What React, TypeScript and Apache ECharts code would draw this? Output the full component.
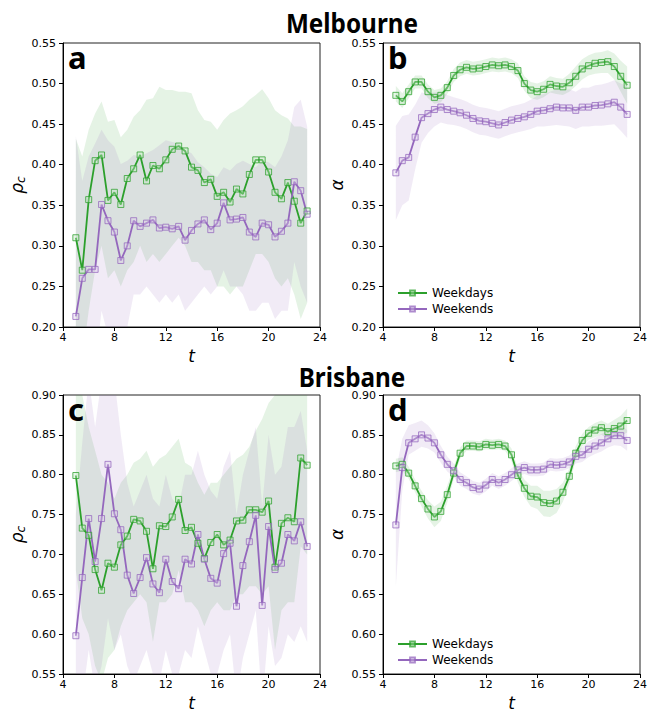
import React, { useEffect, useRef } from "react";
import * as echarts from "echarts";

const T = [5, 5.5, 6, 6.5, 7, 7.5, 8, 8.5, 9, 9.5, 10, 10.5, 11, 11.5, 12, 12.5, 13, 13.5, 14, 14.5, 15, 15.5, 16, 16.5, 17, 17.5, 18, 18.5, 19, 19.5, 20, 20.5, 21, 21.5, 22, 22.5, 23];
const X_TICKS = { min: 4, max: 24, interval: 4 };

// Melbourne rho_c (panel a)
const melRhoWd = [0.310, 0.270, 0.357, 0.405, 0.412, 0.356, 0.366, 0.351, 0.383, 0.395, 0.412, 0.380, 0.399, 0.395, 0.406, 0.419, 0.423, 0.417, 0.397, 0.393, 0.378, 0.382, 0.361, 0.366, 0.354, 0.370, 0.364, 0.388, 0.406, 0.406, 0.391, 0.366, 0.358, 0.378, 0.355, 0.328, 0.343];
const melRhoWdLo = [0.17, 0.16, 0.22, 0.27, 0.30, 0.26, 0.27, 0.25, 0.27, 0.28, 0.30, 0.28, 0.29, 0.28, 0.29, 0.30, 0.31, 0.30, 0.28, 0.28, 0.27, 0.27, 0.25, 0.25, 0.24, 0.25, 0.25, 0.27, 0.29, 0.29, 0.28, 0.26, 0.25, 0.26, 0.24, 0.21, 0.23];
const melRhoWdHi = [0.432, 0.41, 0.443, 0.463, 0.478, 0.453, 0.455, 0.434, 0.443, 0.459, 0.467, 0.480, 0.482, 0.496, 0.492, 0.492, 0.490, 0.490, 0.488, 0.467, 0.455, 0.453, 0.443, 0.455, 0.463, 0.467, 0.472, 0.480, 0.486, 0.493, 0.482, 0.467, 0.461, 0.457, 0.447, 0.447, 0.444];
const melRhoWe = [0.213, 0.260, 0.271, 0.271, 0.351, 0.331, 0.317, 0.282, 0.300, 0.331, 0.324, 0.328, 0.332, 0.322, 0.323, 0.321, 0.324, 0.307, 0.319, 0.327, 0.332, 0.320, 0.328, 0.353, 0.332, 0.333, 0.335, 0.317, 0.311, 0.328, 0.326, 0.311, 0.318, 0.328, 0.379, 0.368, 0.339];
const melRhoWeLo = [0.15, 0.15, 0.17, 0.15, 0.22, 0.19, 0.19, 0.17, 0.20, 0.24, 0.24, 0.25, 0.24, 0.23, 0.24, 0.23, 0.24, 0.22, 0.23, 0.24, 0.25, 0.24, 0.25, 0.27, 0.25, 0.25, 0.24, 0.22, 0.22, 0.23, 0.23, 0.21, 0.22, 0.22, 0.28, 0.25, 0.23];
const melRhoWeHi = [0.435, 0.38, 0.41, 0.426, 0.443, 0.43, 0.422, 0.401, 0.405, 0.412, 0.41, 0.414, 0.418, 0.424, 0.43, 0.428, 0.426, 0.418, 0.414, 0.403, 0.397, 0.389, 0.385, 0.397, 0.393, 0.401, 0.405, 0.401, 0.397, 0.405, 0.403, 0.397, 0.41, 0.43, 0.471, 0.48, 0.447];

// Melbourne alpha (panel b)
const melAlWd = [0.4855, 0.478, 0.490, 0.502, 0.502, 0.490, 0.483, 0.4855, 0.495, 0.510, 0.517, 0.520, 0.518, 0.519, 0.521, 0.523, 0.522, 0.523, 0.521, 0.516, 0.500, 0.492, 0.490, 0.493, 0.499, 0.497, 0.496, 0.501, 0.509, 0.518, 0.522, 0.525, 0.526, 0.527, 0.521, 0.509, 0.498];
const melAlWdLo = [0.478, 0.470, 0.482, 0.494, 0.494, 0.482, 0.475, 0.477, 0.487, 0.502, 0.509, 0.512, 0.510, 0.511, 0.513, 0.515, 0.514, 0.515, 0.513, 0.507, 0.491, 0.482, 0.480, 0.483, 0.489, 0.487, 0.486, 0.490, 0.497, 0.505, 0.510, 0.512, 0.513, 0.513, 0.505, 0.490, 0.475];
const melAlWdHi = [0.497, 0.488, 0.499, 0.510, 0.510, 0.499, 0.492, 0.494, 0.503, 0.518, 0.526, 0.529, 0.527, 0.528, 0.530, 0.532, 0.531, 0.532, 0.530, 0.525, 0.509, 0.502, 0.500, 0.503, 0.509, 0.507, 0.506, 0.512, 0.521, 0.530, 0.535, 0.538, 0.539, 0.541, 0.537, 0.528, 0.521];
const melAlWe = [0.390, 0.405, 0.409, 0.434, 0.458, 0.463, 0.468, 0.471, 0.468, 0.466, 0.464, 0.461, 0.457, 0.454, 0.453, 0.451, 0.449, 0.452, 0.455, 0.457, 0.459, 0.462, 0.466, 0.467, 0.469, 0.471, 0.470, 0.470, 0.467, 0.471, 0.471, 0.473, 0.4735, 0.475, 0.477, 0.471, 0.462];
const melAlWeLo = [0.332, 0.350, 0.356, 0.394, 0.427, 0.439, 0.447, 0.452, 0.450, 0.449, 0.447, 0.444, 0.440, 0.437, 0.436, 0.434, 0.432, 0.435, 0.438, 0.440, 0.442, 0.444, 0.447, 0.447, 0.448, 0.449, 0.448, 0.447, 0.444, 0.447, 0.447, 0.448, 0.448, 0.449, 0.450, 0.442, 0.433];
const melAlWeHi = [0.448, 0.460, 0.462, 0.474, 0.489, 0.488, 0.489, 0.490, 0.486, 0.483, 0.481, 0.478, 0.474, 0.471, 0.470, 0.468, 0.466, 0.469, 0.472, 0.474, 0.476, 0.480, 0.485, 0.487, 0.490, 0.493, 0.492, 0.493, 0.490, 0.495, 0.495, 0.498, 0.499, 0.501, 0.504, 0.500, 0.497];

// Brisbane rho_c (panel c)
const briRhoWd = [0.799, 0.733, 0.724, 0.681, 0.655, 0.689, 0.684, 0.712, 0.723, 0.744, 0.742, 0.729, 0.682, 0.736, 0.735, 0.747, 0.769, 0.730, 0.734, 0.714, 0.695, 0.715, 0.725, 0.712, 0.718, 0.742, 0.743, 0.756, 0.756, 0.753, 0.767, 0.684, 0.739, 0.746, 0.741, 0.821, 0.812];
const briRhoWdLo = [0.68, 0.62, 0.60, 0.56, 0.54, 0.57, 0.58, 0.61, 0.63, 0.64, 0.65, 0.64, 0.59, 0.64, 0.64, 0.65, 0.68, 0.64, 0.64, 0.63, 0.61, 0.63, 0.64, 0.63, 0.63, 0.65, 0.65, 0.66, 0.66, 0.65, 0.66, 0.58, 0.63, 0.64, 0.64, 0.71, 0.70];
const briRhoWdHi = [0.93, 0.90, 0.86, 0.83, 0.80, 0.79, 0.77, 0.79, 0.80, 0.815, 0.82, 0.83, 0.81, 0.82, 0.825, 0.835, 0.845, 0.815, 0.81, 0.79, 0.775, 0.79, 0.79, 0.80, 0.81, 0.82, 0.825, 0.835, 0.855, 0.87, 0.89, 0.90, 0.92, 0.93, 0.93, 0.94, 0.93];
const briRhoWe = [0.598, 0.671, 0.745, 0.691, 0.745, 0.813, 0.751, 0.731, 0.674, 0.651, 0.671, 0.696, 0.663, 0.652, 0.694, 0.666, 0.657, 0.694, 0.688, 0.725, 0.694, 0.670, 0.664, 0.701, 0.714, 0.635, 0.686, 0.716, 0.749, 0.636, 0.735, 0.681, 0.689, 0.725, 0.717, 0.741, 0.710];
const briRhoWeLo = [0.45, 0.52, 0.58, 0.53, 0.56, 0.62, 0.58, 0.60, 0.56, 0.54, 0.56, 0.58, 0.55, 0.54, 0.58, 0.55, 0.55, 0.58, 0.57, 0.61, 0.58, 0.55, 0.55, 0.58, 0.60, 0.52, 0.57, 0.60, 0.63, 0.51, 0.61, 0.56, 0.57, 0.60, 0.59, 0.61, 0.59];
const briRhoWeHi = [0.75, 0.84, 0.92, 0.86, 0.92, 0.98, 0.92, 0.85, 0.79, 0.76, 0.78, 0.80, 0.77, 0.76, 0.80, 0.77, 0.76, 0.80, 0.80, 0.83, 0.80, 0.78, 0.77, 0.81, 0.83, 0.75, 0.80, 0.83, 0.86, 0.76, 0.85, 0.80, 0.81, 0.86, 0.86, 0.88, 0.83];

// Brisbane alpha (panel d)
const briAlWd = [0.811, 0.813, 0.802, 0.786, 0.770, 0.757, 0.747, 0.754, 0.775, 0.802, 0.827, 0.836, 0.836, 0.835, 0.838, 0.837, 0.838, 0.836, 0.825, 0.799, 0.783, 0.773, 0.772, 0.765, 0.764, 0.767, 0.778, 0.798, 0.827, 0.843, 0.852, 0.856, 0.859, 0.854, 0.858, 0.861, 0.868];
const briAlWdLo = [0.803, 0.805, 0.795, 0.778, 0.760, 0.745, 0.734, 0.742, 0.765, 0.794, 0.820, 0.830, 0.830, 0.829, 0.832, 0.831, 0.832, 0.830, 0.817, 0.790, 0.772, 0.760, 0.757, 0.748, 0.747, 0.752, 0.766, 0.788, 0.818, 0.835, 0.844, 0.847, 0.850, 0.845, 0.847, 0.849, 0.853];
const briAlWdHi = [0.820, 0.822, 0.810, 0.794, 0.780, 0.768, 0.760, 0.766, 0.786, 0.810, 0.834, 0.843, 0.843, 0.842, 0.845, 0.844, 0.845, 0.843, 0.833, 0.808, 0.794, 0.786, 0.786, 0.780, 0.780, 0.782, 0.790, 0.808, 0.836, 0.851, 0.860, 0.865, 0.868, 0.864, 0.869, 0.874, 0.883];
const briAlWe = [0.737, 0.809, 0.840, 0.845, 0.850, 0.846, 0.840, 0.825, 0.813, 0.805, 0.794, 0.790, 0.784, 0.782, 0.787, 0.794, 0.790, 0.794, 0.800, 0.806, 0.809, 0.806, 0.806, 0.807, 0.813, 0.812, 0.813, 0.816, 0.823, 0.825, 0.832, 0.836, 0.840, 0.845, 0.849, 0.849, 0.843];
const briAlWeLo = [0.660, 0.780, 0.825, 0.830, 0.835, 0.833, 0.828, 0.815, 0.804, 0.797, 0.786, 0.782, 0.776, 0.774, 0.779, 0.786, 0.782, 0.786, 0.792, 0.798, 0.801, 0.798, 0.798, 0.799, 0.805, 0.804, 0.805, 0.808, 0.814, 0.816, 0.822, 0.826, 0.829, 0.834, 0.837, 0.836, 0.830];
const briAlWeHi = [0.805, 0.845, 0.862, 0.865, 0.868, 0.862, 0.852, 0.836, 0.823, 0.814, 0.803, 0.798, 0.792, 0.790, 0.795, 0.802, 0.798, 0.802, 0.808, 0.814, 0.817, 0.814, 0.814, 0.815, 0.821, 0.820, 0.821, 0.824, 0.832, 0.834, 0.842, 0.846, 0.851, 0.856, 0.861, 0.862, 0.856];

const GREEN = "#2ca02c";
const PURPLE = "#9467bd";
const GREEN_FILL = "rgba(44,160,44,0.12)";
const PURPLE_FILL = "rgba(148,103,189,0.13)";
const FONT = "DejaVu Sans";

const panels = [
  { grid: { left: 63, top: 43, width: 257, height: 284 }, y: [0.2, 0.55], name: "rho", letter: "a",
    wd: melRhoWd, wdLo: melRhoWdLo, wdHi: melRhoWdHi, we: melRhoWe, weLo: melRhoWeLo, weHi: melRhoWeHi },
  { grid: { left: 383, top: 43, width: 257, height: 284 }, y: [0.2, 0.55], name: "alpha", letter: "b",
    wd: melAlWd, wdLo: melAlWdLo, wdHi: melAlWdHi, we: melAlWe, weLo: melAlWeLo, weHi: melAlWeHi },
  { grid: { left: 63, top: 395, width: 257, height: 281 }, y: [0.55, 0.9], name: "rho", letter: "c",
    wd: briRhoWd, wdLo: briRhoWdLo, wdHi: briRhoWdHi, we: briRhoWe, weLo: briRhoWeLo, weHi: briRhoWeHi },
  { grid: { left: 383, top: 395, width: 257, height: 281 }, y: [0.55, 0.9], name: "alpha", letter: "d",
    wd: briAlWd, wdLo: briAlWdLo, wdHi: briAlWdHi, we: briAlWe, weLo: briAlWeLo, weHi: briAlWeHi },
];

function band(idx: number, lo: number[], hi: number[], fill: string) {
  return {
    type: "custom",
    xAxisIndex: idx,
    yAxisIndex: idx,
    silent: true,
    clip: true,
    z: 1,
    data: [[T[0], lo[0]]],
    renderItem: (params: any, api: any) => {
      const pts: number[][] = [];
      for (let i = 0; i < T.length; i++) pts.push(api.coord([T[i], hi[i]]));
      for (let i = T.length - 1; i >= 0; i--) pts.push(api.coord([T[i], lo[i]]));
      const cs = params.coordSys;
      return {
        type: "polygon",
        shape: { points: pts },
        style: { fill, stroke: "none" },
        clipPath: { type: "rect", shape: { x: cs.x, y: cs.y, width: cs.width, height: cs.height } },
      };
    },
  };
}

function line(idx: number, name: string, vals: number[], color: string, face: string) {
  return {
    type: "line",
    name,
    xAxisIndex: idx,
    yAxisIndex: idx,
    z: 3,
    data: T.map((t, i) => [t, vals[i]]),
    symbol: "rect",
    symbolSize: 6,
    showSymbol: true,
    lineStyle: { color, width: 1.8 },
    itemStyle: { color: face, borderColor: color, borderWidth: 1, opacity: 0.75 },
    emphasis: { disabled: true },
  };
}

export default function App() {
  const ref = useRef<HTMLDivElement>(null);
  useEffect(() => {
    if (!ref.current) return;
    const chart = echarts.init(ref.current, undefined, { renderer: "svg" });

    const grids = panels.map((p) => ({ ...p.grid, show: true, borderColor: "#222", borderWidth: 1, containLabel: false }));
    const xAxes = panels.map((p, i) => ({
      type: "value",
      gridIndex: i,
      ...X_TICKS,
      name: "t",
      nameLocation: "middle",
      nameGap: 20,
      nameTextStyle: { fontFamily: FONT, fontSize: 17, fontStyle: "italic", color: "#000", verticalAlign: "top" },
      axisLine: { show: true, lineStyle: { color: "#000", width: 1 } },
      axisTick: { show: true, inside: false, length: 4, lineStyle: { color: "#000" } },
      axisLabel: { fontFamily: FONT, fontSize: 11, color: "#000", margin: 5 },
      splitLine: { show: false },
    }));
    const yAxes = panels.map((p, i) => ({
      type: "value",
      gridIndex: i,
      min: p.y[0],
      max: p.y[1],
      interval: 0.05,
      name: p.name === "rho" ? "{r|ρ}{s|c}" : "α",
      nameLocation: "middle",
      nameRotate: 90,
      nameGap: p.name === "rho" ? 36 : 38,
      nameTextStyle: {
        fontFamily: FONT, fontSize: 17, fontStyle: "italic", color: "#000",
        rich: {
          r: { fontFamily: FONT, fontSize: 17, fontStyle: "italic", color: "#000" },
          s: { fontFamily: FONT, fontSize: 12, fontStyle: "italic", color: "#000", padding: [9, 0, 0, 0] },
        },
      },
      axisLine: { show: true, lineStyle: { color: "#000", width: 1 } },
      axisTick: { show: true, inside: false, length: 4, lineStyle: { color: "#000" } },
      axisLabel: { fontFamily: FONT, fontSize: 11, color: "#000", margin: 7, formatter: (v: number) => v.toFixed(2) },
      splitLine: { show: false },
    }));

    const series: any[] = [];
    panels.forEach((p, i) => {
      series.push(band(i, p.wdLo, p.wdHi, GREEN_FILL));
      series.push(band(i, p.weLo, p.weHi, PURPLE_FILL));
      series.push(line(i, "Weekdays", p.wd, GREEN, "rgba(190,230,190,0.5)"));
      series.push(line(i, "Weekends", p.we, PURPLE, "rgba(220,205,235,0.5)"));
    });

    const legendBase = {
      orient: "vertical",
      left: 392,
      itemWidth: 29,
      itemHeight: 6,
      itemGap: 4,
      data: ["Weekdays", "Weekends"],
      textStyle: { fontFamily: FONT, fontSize: 12, color: "#000" },
      selectedMode: false,
    };

    const letters = panels.map((p) => ({
      type: "text",
      x: p.grid.left + 5,
      y: p.grid.top + 14,
      z: 10,
      style: { text: p.letter, font: 'bold 31px "Noto Sans"', fill: "#000", textAlign: "left", textVerticalAlign: "middle" },
    }));

    chart.setOption({
      animation: false,
      backgroundColor: "#fff",
      grid: grids,
      xAxis: xAxes,
      yAxis: yAxes,
      legend: [
        { ...legendBase, top: 282 },
        { ...legendBase, top: 633 },
      ],
      graphic: [
        { type: "text", x: 352, y: 23, scaleX: 0.9, z: 10, style: { text: "Melbourne", font: 'bold 27px "Noto Sans"', fill: "#000", textAlign: "center", textVerticalAlign: "middle" } },
        { type: "text", x: 352, y: 377, scaleX: 0.9, z: 10, style: { text: "Brisbane", font: 'bold 27px "Noto Sans"', fill: "#000", textAlign: "center", textVerticalAlign: "middle" } },
        ...letters,
      ],
      series,
    });
    return () => chart.dispose();
  }, []);
  return <div ref={ref} style={{ position: "absolute", left: 0, top: 0, width: 651, height: 712 }} />;
}
